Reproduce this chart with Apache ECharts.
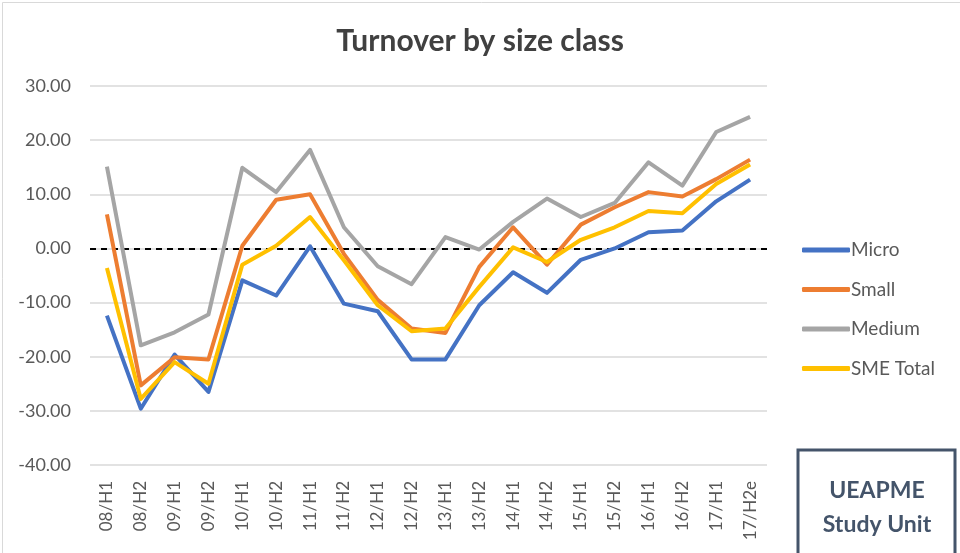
<!DOCTYPE html>
<html><head><meta charset="utf-8">
<script src="https://cdn.jsdelivr.net/npm/echarts@6/dist/echarts.min.js"></script>
<style>html,body{margin:0;padding:0;background:#fff}#c{width:960px;height:553px}</style>
</head><body><div id="c"></div>
<script>
const categories = ['08/H1','08/H2','09/H1','09/H2','10/H1','10/H2','11/H1','11/H2','12/H1','12/H2','13/H1','13/H2','14/H1','14/H2','15/H1','15/H2','16/H1','16/H2','17/H1','17/H2e'];
const micro    = [-12.4,-29.6,-19.6,-26.5,-5.9,-8.7,0.4,-10.2,-11.6,-20.5,-20.5,-10.5,-4.4,-8.2,-2.1,0.0,3.0,3.3,8.7,12.7];
const small    = [6.3,-25.3,-20.1,-20.5,0.5,9.0,10.0,-1.0,-9.5,-14.8,-15.6,-3.4,3.9,-3.0,4.4,7.6,10.4,9.6,12.8,16.4];
const medium   = [15.1,-17.9,-15.5,-12.2,14.9,10.4,18.2,3.9,-3.3,-6.6,2.1,-0.2,4.9,9.2,5.8,8.4,15.9,11.6,21.5,24.3];
const smeTotal = [-3.6,-27.8,-21.0,-25.0,-3.0,0.5,5.8,-2.2,-10.5,-15.3,-14.8,-7.1,0.2,-2.5,1.6,3.9,6.9,6.5,11.9,15.5];
const seriesNames = ['Micro','Small','Medium','SME Total'];
const seriesColors = ['#4472C4','#ED7D31','#A5A5A5','#FFC000'];
const seriesData = [micro, small, medium, smeTotal];

const chart = echarts.init(document.getElementById('c'));
const font = 'Lato, "Open Sans", sans-serif';
chart.setOption({
  animation: false,
  backgroundColor: '#fff',
  title: {
    text: 'Turnover by size class', left: 'center', top: 21,
    textStyle: {fontFamily: font, fontSize: 30, fontWeight: 'bold', color: '#404040'}
  },
  grid: {left: 90, top: 86, width: 677, height: 379, containLabel: false},
  legend: {
    orient: 'vertical', left: 802, top: 239, padding: 0, itemWidth: 48, itemHeight: 5, itemGap: 17.5,
    icon: 'roundRect',
    textStyle: {fontFamily: font, fontSize: 19, color: '#595959', padding: [0,0,0,-4], lineHeight: 22},
    data: seriesNames
  },
  xAxis: {
    type: 'category', data: categories, boundaryGap: true,
    axisLine: {show: false}, axisTick: {show: false},
    axisLabel: {rotate: 90, margin: 16, fontFamily: font, fontSize: 17, color: '#595959', interval: 0}
  },
  yAxis: {
    type: 'value', min: -40, max: 30, interval: 10,
    axisLine: {show: false}, axisTick: {show: false},
    splitLine: {lineStyle: {color: '#D9D9D9', width: 1.5}},
    axisLabel: {margin: 19, fontFamily: font, fontSize: 18, color: '#595959', formatter: v => v.toFixed(2)}
  },
  series: seriesNames.map((n, i) => ({
    name: n, type: 'line', data: seriesData[i], symbol: 'none', z: 2 + i,
    lineStyle: {color: seriesColors[i], width: 4, join: 'round'},
    itemStyle: {color: seriesColors[i]},
    markLine: i === 0 ? {
      silent: true, symbol: 'none', label: {show: false},
      lineStyle: {color: '#000', type: [6, 5], width: 2},
      data: [{yAxis: 0}], z: 1
    } : undefined
  })),
  graphic: [
    {type: 'rect', left: 0, top: 0, shape: {x: 0.5, y: 0.5, width: 958, height: 560}, style: {fill: 'none', stroke: '#D9D9D9', lineWidth: 1}, silent: true},
    {type: 'rect', shape: {x: 798, y: 450, width: 157, height: 120}, style: {fill: '#fff', stroke: '#44546A', lineWidth: 3}, z: 10},
    {type: 'text', x: 877, y: 491, style: {text: 'UEAPME', fontFamily: font, fontSize: 23, fontWeight: 'bold', fill: '#44546A', textAlign: 'center', textVerticalAlign: 'middle'}, z: 11},
    {type: 'text', x: 877, y: 525, style: {text: 'Study Unit', fontFamily: font, fontSize: 23, fontWeight: 'bold', fill: '#44546A', textAlign: 'center', textVerticalAlign: 'middle'}, z: 11}
  ]
});
</script></body></html>
